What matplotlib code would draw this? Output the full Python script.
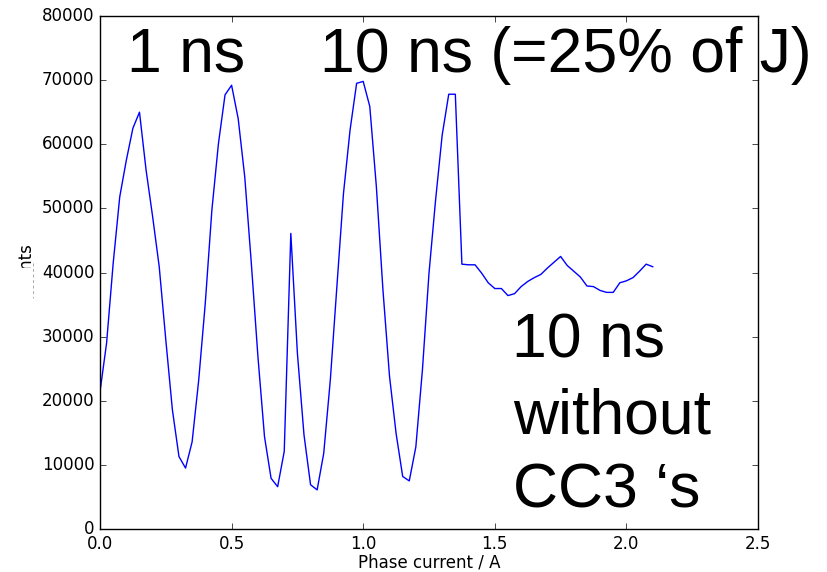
import matplotlib
matplotlib.use("Agg")
import matplotlib.pyplot as plt
from matplotlib.patches import Rectangle
from matplotlib.lines import Line2D

#===============================================================================
#                                Data
#===============================================================================

phase_current = [0.000, 0.025, 0.050, 0.075, 0.100, 0.125, 0.150, 0.175, 0.200, 0.225,
                 0.250, 0.275, 0.300, 0.325, 0.350, 0.375, 0.400, 0.425, 0.450, 0.475,
                 0.500, 0.525, 0.550, 0.575, 0.600, 0.625, 0.650, 0.675, 0.700, 0.725,
                 0.750, 0.775, 0.800, 0.825, 0.850, 0.875, 0.900, 0.925, 0.950, 0.975,
                 1.000, 1.025, 1.050, 1.075, 1.100, 1.125, 1.150, 1.175, 1.200, 1.225,
                 1.250, 1.275, 1.300, 1.325, 1.350, 1.375, 1.400, 1.425, 1.450, 1.475,
                 1.500, 1.525, 1.550, 1.575, 1.600, 1.625, 1.650, 1.675, 1.700, 1.725,
                 1.750, 1.775, 1.800, 1.825, 1.850, 1.875, 1.900, 1.925, 1.950, 1.975,
                 2.000, 2.025, 2.050, 2.075, 2.100]

counts = [21400, 29000, 41400, 51800, 57500, 62500, 65000, 56000, 48700, 40900,
          29500, 18600, 11300,  9500, 13600, 23200, 35200, 49700, 60100, 67700,
          69200, 64000, 54900, 41400, 26900, 14400,  7900,  6600, 12100, 46100,
          27400, 14700,  6900,  6100, 11800, 23200, 37800, 52300, 62200, 69500,
          69800, 65900, 53400, 37300, 23800, 14900,  8200,  7500, 12800, 24800,
          39900, 51300, 61400, 67800, 67800, 41300, 41200, 41200, 39900, 38400,
          37500, 37500, 36400, 36700, 37800, 38600, 39200, 39700, 40700, 41600,
          42500, 41100, 40200, 39300, 37900, 37800, 37200, 36900, 36900, 38400,
          38700, 39200, 40200, 41300, 40900]

#===============================================================================
#                                Plot
#===============================================================================

plt.style.use('classic')

W, H = 827, 572
fig = plt.figure( figsize=(W/100, H/100), dpi=100, facecolor="white" )
ax  = fig.add_axes( [100/W, 1 - 529/H, 658/W, 513/H] )
ax.set_facecolor("white")

ax.plot( phase_current, counts, color="blue", linewidth=1.0 )

ax.set_xlim( 0, 2.5 )
ax.set_ylim( 0, 80000 )
ax.set_xticks( [0.0, 0.5, 1.0, 1.5, 2.0, 2.5] )
ax.set_yticks( range(0, 80001, 10000) )
ax.tick_params( labelsize=12 )
ax.set_xlabel( "Phase current / A", fontsize=12, labelpad=0.8 )
ax.set_ylabel( "Counts", fontsize=12 )

# lower half of the y label is blanked out in the original
fig.patches.append( Rectangle( (8/W, 1 - 305/H), 25/W, 37/H, transform=fig.transFigure,
                               facecolor="white", edgecolor="none", zorder=5 ) )
fig.lines.append( Line2D( [32.5/W, 32.5/W], [1 - 263/H, 1 - 298/H], transform=fig.transFigure,
                          color="0.6", linewidth=0.6, linestyle=(0, (2, 2)), zorder=6 ) )

big = dict( fontsize=45, family="Liberation Sans", color="black", ha="left", va="baseline" )
fig.text( 127/W, 1 - 72/H, "1 ns", **big )
fig.text( 320/W, 1 - 72/H, "10 ns (=25% of J)", **big )
fig.text( 512/W, 1 - 358/H, "10 ns", **big )
fig.text( 513/W, 1 - 433/H, "without", **big )
fig.text( 513/W, 1 - 508/H, "CC3 \u2018s", **big )

plt.savefig( "out.png", dpi=100, facecolor="white" )
plt.close(fig)
